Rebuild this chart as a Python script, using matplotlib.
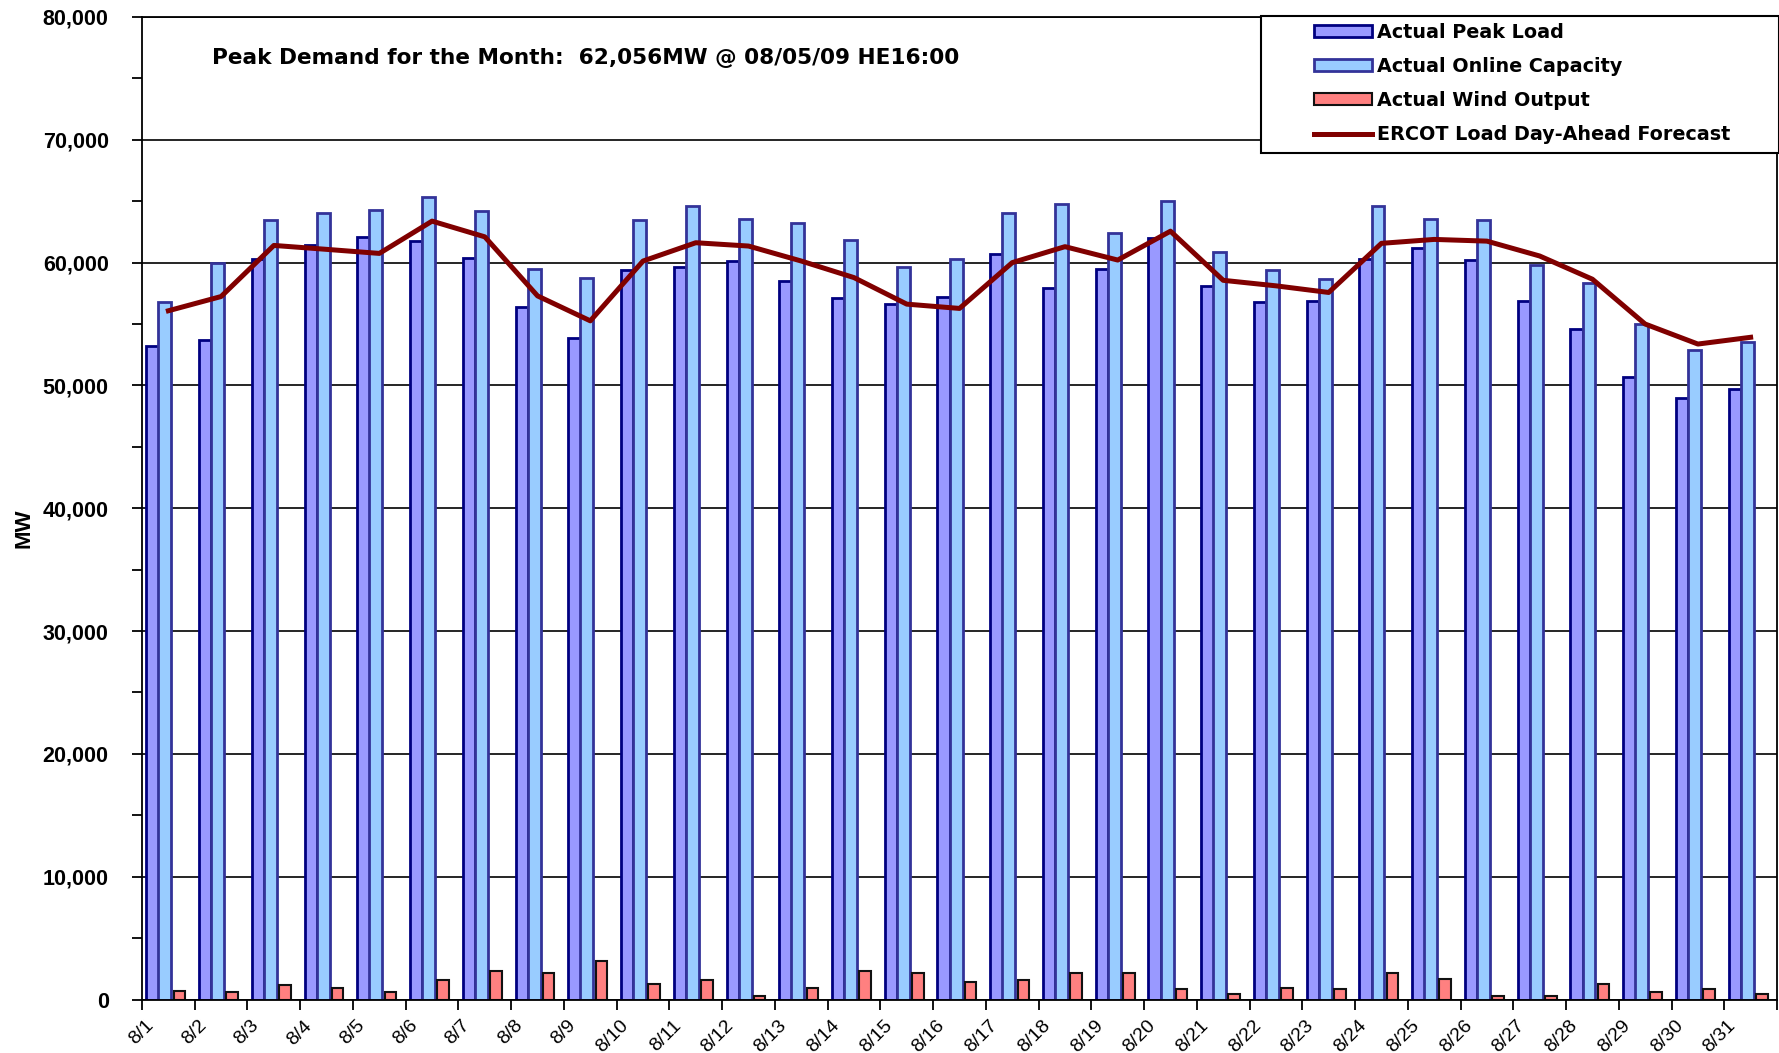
import numpy as np
import matplotlib
matplotlib.use("Agg")
import matplotlib.pyplot as plt
from matplotlib.patches import Patch, Rectangle
from matplotlib.lines import Line2D
from matplotlib.ticker import FuncFormatter, MultipleLocator, FixedLocator

# 数据 (MW)
days = ["8/1", "8/2", "8/3", "8/4", "8/5", "8/6", "8/7", "8/8", "8/9", "8/10",
        "8/11", "8/12", "8/13", "8/14", "8/15", "8/16", "8/17", "8/18", "8/19", "8/20",
        "8/21", "8/22", "8/23", "8/24", "8/25", "8/26", "8/27", "8/28", "8/29", "8/30", "8/31"]
peak_load = [53190, 53720, 60270, 61400, 62056, 61730, 60380, 56350, 53890, 59380,
             59670, 60100, 58510, 57080, 56620, 57240, 60670, 57970, 59510, 62020,
             58110, 56760, 56890, 60270, 61220, 60210, 56890, 54590, 50670, 48970, 49670]
online_cap = [56800, 59940, 63460, 64050, 64320, 65350, 64190, 59510, 58780, 63460,
              64590, 63590, 63240, 61830, 59670, 60270, 64050, 64780, 62430, 65050,
              60860, 59400, 58650, 64590, 63570, 63460, 59780, 58380, 55000, 52890, 53560]
wind_output = [700, 570, 1160, 970, 590, 1570, 2300, 2140, 3160, 1300,
               1570, 270, 970, 2300, 2140, 1430, 1570, 2140, 2140, 840,
               430, 970, 840, 2140, 1700, 270, 270, 1300, 570, 840, 430]
da_forecast = [56080, 57240, 61400, 61080, 60750, 63380, 62100, 57290, 55260, 60130,
               61620, 61350, 60130, 58780, 56620, 56270, 60000, 61300, 60210, 62560,
               58560, 58110, 57570, 61570, 61890, 61750, 60540, 58650, 55000, 53370, 53920]

labels = ["Actual Peak Load", "Actual Online Capacity", "Actual Wind Output",
          "ERCOT Load Day-Ahead Forecast"]
note = "Peak Demand for the Month:  62,056MW @ 08/05/09 HE16:00"

W, H = 1779, 1053
fig = plt.figure(figsize=(W / 100, H / 100), dpi=100)
ax = fig.add_axes([142 / W, 1 - 999.5 / H, 1635 / W, 982.5 / H])

x = np.arange(len(days))
ax.bar(x - 0.30, peak_load, 0.235, color="#9999FF", edgecolor="#000080", linewidth=2.0, zorder=2)
ax.bar(x - 0.065, online_cap, 0.245, color="#99CCFF", edgecolor="#333399", linewidth=2.0, zorder=2)
ax.bar(x + 0.21, wind_output, 0.22, color="#FF8080", edgecolor="#111111", linewidth=1.5, zorder=2)
ax.plot(x, da_forecast, color="#800000", linewidth=3.6, zorder=3)

ax.set_xlim(-0.5, len(days) - 0.5)
ax.set_ylim(0, 80000)

# y 轴
ax.yaxis.set_major_locator(MultipleLocator(10000))
ax.yaxis.set_minor_locator(MultipleLocator(5000))
ax.yaxis.set_major_formatter(FuncFormatter(lambda v, p: f"{int(v):,}"))
ax.tick_params(axis="y", which="both", direction="out", length=7, width=1.3, pad=17)
for t in ax.get_yticklabels():
    t.set_fontfamily("Liberation Sans")
    t.set_fontweight("bold")
    t.set_fontsize(15.5)
ax.yaxis.grid(True, which="major", color="black", linewidth=1.2, zorder=0)
ax.set_axisbelow(True)

# x 轴: 刻度在类别边界, 标签在类别中间
ax.xaxis.set_major_locator(FixedLocator(np.arange(len(days) + 1) - 0.5))
ax.xaxis.set_minor_locator(FixedLocator(x - 0.33))
ax.set_xticklabels([], minor=False)
ax.set_xticklabels(days, minor=True)
ax.tick_params(axis="x", which="major", direction="out", length=7, width=1.3)
ax.tick_params(axis="x", which="minor", length=0, pad=17)
for t in ax.get_xticklabels(minor=True):
    t.set_rotation(45)
    t.set_ha("right")
    t.set_va("center")
    t.set_rotation_mode("anchor")
    t.set_fontfamily("Liberation Sans")
    t.set_fontsize(14)

for s in ax.spines.values():
    s.set_linewidth(1.3)
    s.set_color("black")

fig.text(24 / W, 1 - 528 / H, "MW", rotation=90, ha="center", va="center",
         fontfamily="Liberation Sans", fontweight="bold", fontsize=16)
fig.text(212 / W, 1 - 58 / H, note, ha="left", va="center",
         fontfamily="DejaVu Sans", fontweight="bold", fontsize=15.6)

# 图例框
fig.add_artist(Rectangle((1261 / W, 1 - 153 / H), (W - 1261) / W, 137 / H,
                         transform=fig.transFigure, facecolor="white",
                         edgecolor="black", linewidth=1.5, zorder=5))
handles = [
    Patch(facecolor="#9999FF", edgecolor="#000080", linewidth=2.0),
    Patch(facecolor="#99CCFF", edgecolor="#333399", linewidth=2.0),
    Patch(facecolor="#FF8080", edgecolor="#111111", linewidth=1.5),
    Line2D([], [], color="#800000", linewidth=3.6),
]
leg = fig.legend(handles, labels, loc="upper left", bbox_to_anchor=(1314 / W, 1 - 23 / H),
                 frameon=False, borderpad=0, borderaxespad=0, handlelength=3.0,
                 handleheight=0.55, handletextpad=0.27, labelspacing=0.78,
                 prop={"family": "DejaVu Sans", "weight": "bold", "size": 13.8})
leg.set_zorder(6)

fig.savefig("out.png", dpi=100)
plt.close(fig)
